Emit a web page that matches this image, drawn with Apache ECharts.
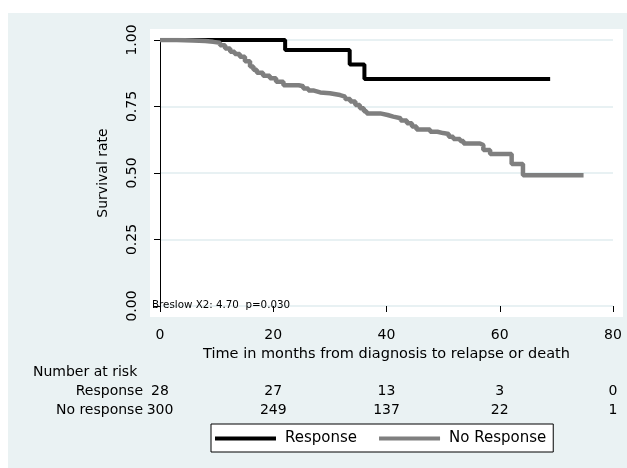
<!DOCTYPE html>
<html>
<head>
<meta charset="utf-8">
<script src="https://cdn.jsdelivr.net/npm/echarts@6/dist/echarts.min.js"></script>
<style>html,body{margin:0;padding:0;background:#fff}#c{width:627px;height:468px}</style>
</head>
<body>
<div id="c"></div>
<script>
// ---- data ----
var xTicks = [0, 20, 40, 60, 80];
var yTicks = [0, 0.25, 0.5, 0.75, 1];
var groupNames = ['Response', 'No Response'];
var riskRowNames = ['Response', 'No response'];
var riskResponse = [28, 27, 13, 3, 0];
var riskNoResponse = [300, 249, 137, 22, 1];
var responseTimes = [0, 22.1, 33.5, 36.1, 68.9];
var responseSurv  = [1, 0.962, 0.908, 0.853, 0.853];
var noRespTimes = [0, 3, 5.8, 8, 9.4, 10.6, 11.5, 12.4, 13.2, 14.1, 15, 15.9, 16.5, 17.1, 18.2, 19.4, 20.5, 21.8, 24.5, 25.3, 26.2, 27.2, 28.3, 30, 31.8, 32.7, 33.6, 34.5, 35.3, 36, 36.5, 38.9, 40.2, 41.2, 42.5, 43.6, 44.5, 45.3, 47.7, 49, 50, 51, 51.8, 53, 53.6, 56.5, 57.1, 58.3, 62.1, 64.1, 74.8];
var noRespSurv  = [1, 0.998, 0.996, 0.993, 0.99, 0.98, 0.968, 0.956, 0.947, 0.937, 0.92, 0.90, 0.888, 0.877, 0.866, 0.856, 0.843, 0.83, 0.826, 0.818, 0.81, 0.803, 0.80, 0.793, 0.787, 0.778, 0.769, 0.756, 0.743, 0.732, 0.724, 0.718, 0.712, 0.706, 0.697, 0.687, 0.675, 0.664, 0.655, 0.65, 0.647, 0.636, 0.628, 0.62, 0.611, 0.605, 0.586, 0.571, 0.534, 0.492, 0.492];
var xTitle = 'Time in months from diagnosis to relapse or death';
var yTitle = 'Survival rate';
var testText = 'Breslow X2: 4.70  p=0.030';
var riskTitle = 'Number at risk';

function pairs(t, s) { return t.map(function (v, i) { return [v, s[i]]; }); }

var FONT = 'DejaVu Sans';
var FS = 14;
var BG = '#eaf2f3';
var GRAY = '#7f7f7f';
var chart = echarts.init(document.getElementById('c'), null, {renderer: 'canvas'});

function riskAxis(arr, off) {
  return {
    type: 'value', gridIndex: 0, position: 'bottom', offset: off,
    min: 0, max: 80, interval: 20,
    axisLine: {show: false}, axisTick: {show: false}, splitLine: {show: false},
    axisLabel: {margin: 0, color: '#000', fontFamily: FONT, fontSize: FS,
      formatter: function (v) { var i = xTicks.indexOf(v); return i >= 0 ? String(arr[i]) : ''; }}
  };
}

chart.setOption({
  backgroundColor: '#fff',
  animation: false,
  grid: {left: 160, right: 14, top: 40, bottom: 162, containLabel: false},
  graphic: [
    {type: 'rect', z: -100, shape: {x: 8, y: 13, width: 619, height: 455}, style: {fill: BG}},
    {type: 'rect', z: -90, shape: {x: 150, y: 29, width: 473, height: 288}, style: {fill: '#fff'}},
    {type: 'text', z: 10, style: {x: 152, y: 305, text: testText, verticalAlign: 'middle', fontFamily: FONT, fontSize: 10.3, fill: '#000'}},
    {type: 'text', z: 10, style: {x: 33, y: 372, text: riskTitle, verticalAlign: 'middle', fontFamily: FONT, fontSize: FS, fill: '#000'}},
    {type: 'text', z: 10, style: {x: 143, y: 391, text: riskRowNames[0], align: 'right', verticalAlign: 'middle', fontFamily: FONT, fontSize: FS, fill: '#000'}},
    {type: 'text', z: 10, style: {x: 143, y: 410, text: riskRowNames[1], align: 'right', verticalAlign: 'middle', fontFamily: FONT, fontSize: FS, fill: '#000'}}
  ],
  legend: {
    left: 211, top: 424, orient: 'horizontal',
    data: groupNames,
    icon: 'rect', itemWidth: 61, itemHeight: 4, itemGap: 22,
    borderColor: '#000', borderWidth: 1, backgroundColor: '#fff', borderRadius: 0,
    padding: [7, 7, 6, 4],
    textStyle: {fontFamily: FONT, fontSize: 15, color: '#000', padding: [1, 0, 0, 4]}
  },
  xAxis: [
    {
      type: 'value', min: 0, max: 80, interval: 20, offset: 11,
      name: xTitle, nameLocation: 'middle', nameGap: 29,
      nameTextStyle: {fontFamily: FONT, fontSize: 14.5, color: '#000'},
      axisLine: {show: false},
      axisTick: {show: true, length: 6, lineStyle: {color: '#000'}},
      axisLabel: {margin: 11, color: '#000', fontFamily: FONT, fontSize: FS},
      splitLine: {show: false}
    },
    riskAxis(riskResponse, 78),
    riskAxis(riskNoResponse, 97)
  ],
  yAxis: {
    type: 'value', min: 0, max: 1, interval: 0.25, offset: 10,
    name: yTitle, nameLocation: 'middle', nameGap: 40,
    nameTextStyle: {fontFamily: FONT, fontSize: FS, color: '#000'},
    axisLine: {show: true, lineStyle: {color: '#000', width: 1}},
    axisTick: {show: true, length: 6, lineStyle: {color: '#000'}},
    axisLabel: {rotate: 90, margin: 11, color: '#000', fontFamily: FONT, fontSize: FS,
      formatter: function (v) { return v.toFixed(2); }},
    splitLine: {show: true, lineStyle: {color: '#e0ecef', width: 1.5}}
  },
  series: [
    {name: groupNames[0], type: 'line', step: 'end', showSymbol: false, symbol: 'none',
     data: pairs(responseTimes, responseSurv), color: '#000',
     lineStyle: {color: '#000', width: 4}},
    {name: groupNames[1], type: 'line', step: 'end', showSymbol: false, symbol: 'none',
     data: pairs(noRespTimes, noRespSurv), color: GRAY,
     lineStyle: {color: GRAY, width: 4.5}}
  ]
});
</script>
</body>
</html>
